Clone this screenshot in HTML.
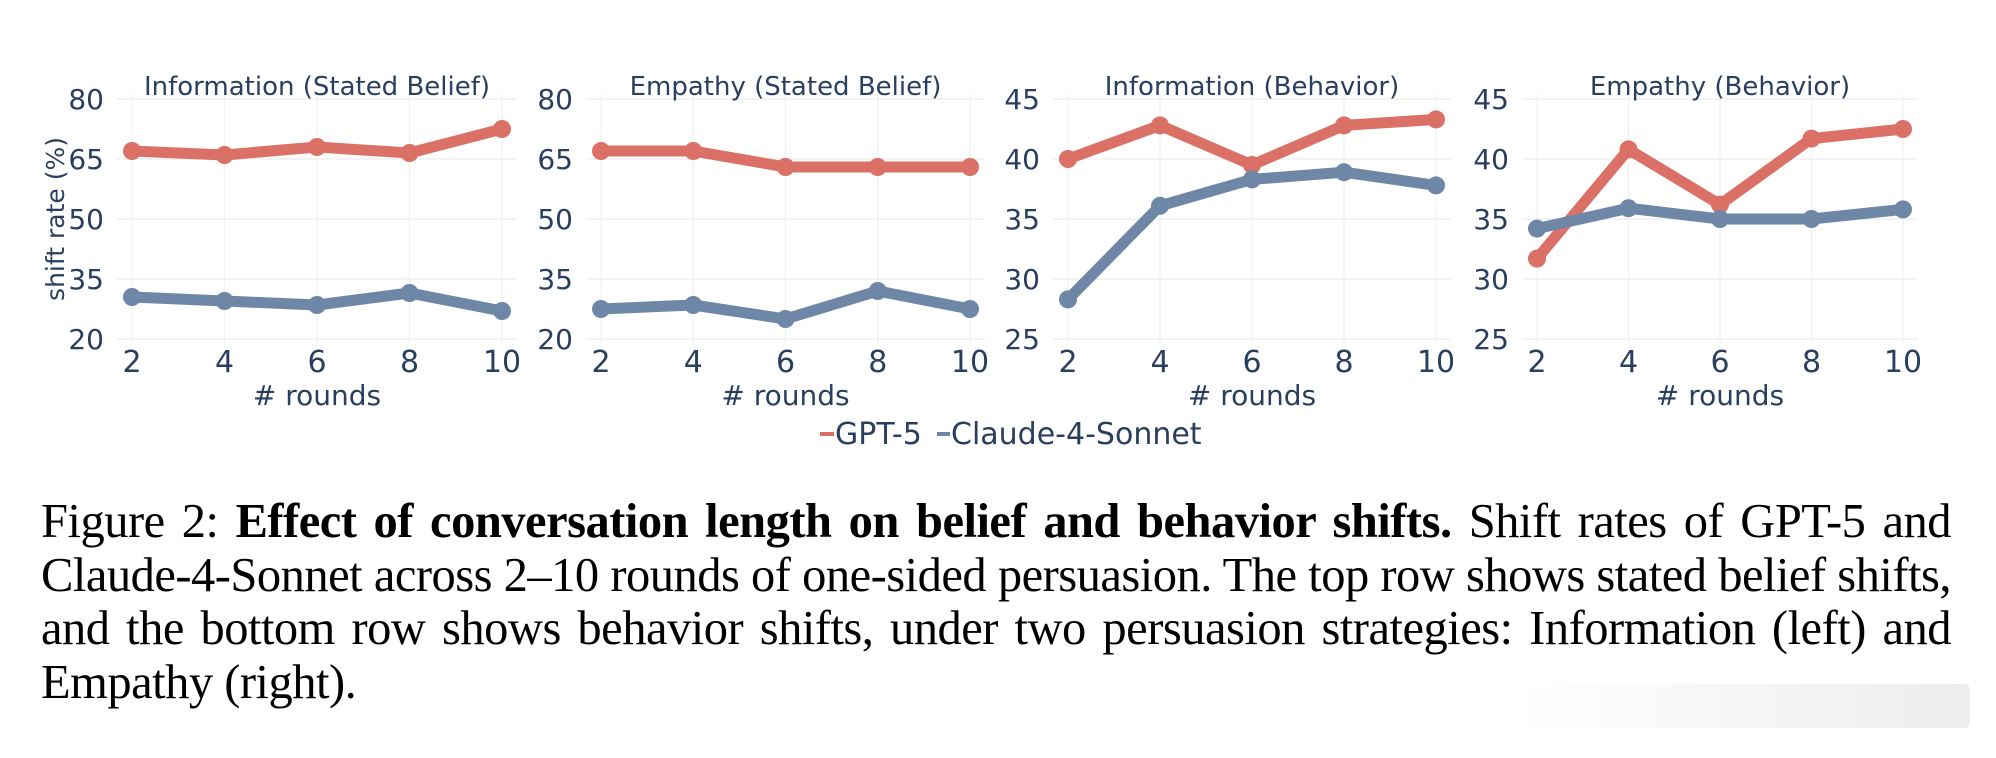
<!DOCTYPE html>
<html><head><meta charset="utf-8"><style>
body{margin:0;background:#fff;width:1996px;height:758px;overflow:hidden;position:relative}
svg{position:absolute;left:0;top:0}
#cap{position:absolute;left:41px;top:495px;width:1910px;font-family:"Liberation Serif",serif;font-size:48.5px;line-height:53.5px;color:#000;letter-spacing:-0.5px}
#cap div{text-align:justify;text-align-last:justify;white-space:nowrap}
#cap div.last{text-align-last:left}
</style></head><body>
<svg id="chart" width="1996" height="480" font-family="DejaVu Sans, Liberation Sans, sans-serif"></svg>
<div id="cap">
<div>Figure 2: <b>Effect of conversation length on belief and behavior shifts.</b> Shift rates of GPT-5 and</div>
<div>Claude-4-Sonnet across 2–10 rounds of one-sided persuasion. The top row shows stated belief shifts,</div>
<div>and the bottom row shows behavior shifts, under two persuasion strategies: Information (left) and</div>
<div class="last">Empathy (right).</div>
</div>
<div style="position:absolute;left:1515px;top:684px;width:455px;height:44px;background:linear-gradient(90deg,rgba(235,235,235,0),rgba(232,232,232,0.8));border-radius:6px"></div>
<script>
const rounds=[2,4,6,8,10];
const titles=["Information (Stated Belief)","Empathy (Stated Belief)","Information (Behavior)","Empathy (Behavior)"];
const gpt1=[67,66,68,66.5,72.5], claude1=[30.5,29.5,28.5,31.5,27];
const gpt2=[67,67,63,63,63], claude2=[27.5,28.5,25,32,27.5];
const gpt3=[40,42.8,39.5,42.8,43.3], claude3=[28.3,36.1,38.3,38.9,37.8];
const gpt4=[31.7,40.8,36.2,41.7,42.5], claude4=[34.2,35.9,35,35,35.8];
const ticksBelief=[20,35,50,65,80], ticksBehav=[25,30,35,40,45];
const panels=[
 {x0:132,x1:502,t:ticksBelief,g:gpt1,c:claude1},
 {x0:601,x1:970,t:ticksBelief,g:gpt2,c:claude2},
 {x0:1068,x1:1436,t:ticksBehav,g:gpt3,c:claude3},
 {x0:1537,x1:1903,t:ticksBehav,g:gpt4,c:claude4}];
const RED="#da7066",BLUE="#6e87a6",TXT="#2a3f5f";
const svg=document.getElementById('chart');const NS="http://www.w3.org/2000/svg";
function mk(tag,at,txt){const e=document.createElementNS(NS,tag);for(const k in at)e.setAttribute(k,at[k]);if(txt!=null)e.textContent=txt;svg.appendChild(e);return e;}
const Y0=339,Y1=99;
panels.forEach((p,i)=>{
 const tmin=p.t[0],tmax=p.t[p.t.length-1];
 const xs=v=>p.x0+(v-rounds[0])/(rounds[rounds.length-1]-rounds[0])*(p.x1-p.x0);
 const ys=v=>Y0-(v-tmin)/(tmax-tmin)*(Y0-Y1);
 p.t.forEach(t=>{
  const l=mk('line',{x1:p.x0-15,x2:p.x1+15,y1:ys(t),y2:ys(t),stroke:"#ececec","stroke-width":1.3});
  
  const tx=mk('text',{x:p.x0-28,y:ys(t)+10,"text-anchor":"end","font-size":28,fill:TXT},t);
  
 });
 rounds.forEach(r=>{
  const l=mk('line',{x1:xs(r),x2:xs(r),y1:Y1-5,y2:Y0+5,stroke:"#f0f0f0","stroke-width":1.3});
  
  const tx=mk('text',{x:xs(r),y:372,"text-anchor":"middle","font-size":30,fill:TXT},r);
  
 });
 const tt=mk('text',{x:(p.x0+p.x1)/2,y:95,"text-anchor":"middle","font-size":26,fill:TXT},titles[i]);
 
 const xt=mk('text',{x:(p.x0+p.x1)/2,y:405,"text-anchor":"middle","font-size":28,fill:TXT},"# rounds");
 
 [[p.g,RED,'gpt5'],[p.c,BLUE,'claude']].forEach(([d,col,nm])=>{
  const pl=mk('polyline',{points:d.map((v,j)=>xs(rounds[j])+","+ys(v)).join(" "),fill:"none",stroke:col,"stroke-width":11,"stroke-linejoin":"round"});
  
  d.forEach((v,j)=>{const c=mk('circle',{cx:xs(rounds[j]),cy:ys(v),r:9,fill:col});
   });
 });
});
const yt=mk('text',{x:0,y:0,transform:"translate(64,219) rotate(-90)","text-anchor":"middle","font-size":25,fill:TXT},"shift rate (%)");

const lg1=mk('line',{x1:820,x2:834,y1:434,y2:434,stroke:RED,"stroke-width":4});

const lt1=mk('text',{x:835,y:444,"font-size":30,fill:TXT},"GPT-5");

const lg2=mk('line',{x1:937,x2:950,y1:434,y2:434,stroke:BLUE,"stroke-width":4});

const lt2=mk('text',{x:951,y:444,"font-size":30,fill:TXT},"Claude-4-Sonnet");

</script>
</body></html>
